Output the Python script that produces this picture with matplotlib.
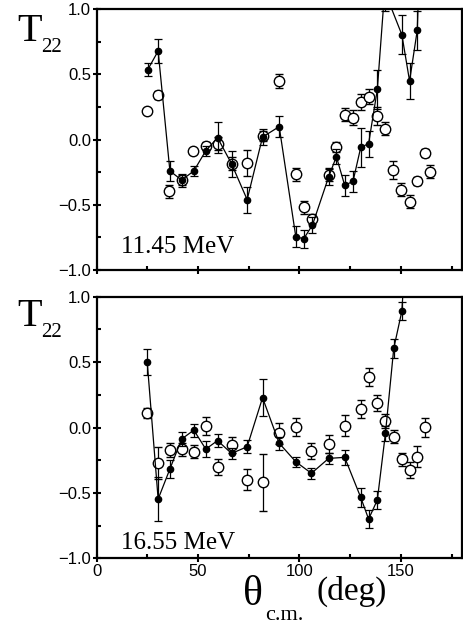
import matplotlib.pyplot as plt
import numpy as np
from matplotlib.ticker import MultipleLocator, FuncFormatter

# ---- 11.45 MeV ----
ang_f1 = [25.1, 30.3, 36.1, 41.9, 47.9, 53.8, 59.6, 66.5, 74.2, 81.8, 90.0,
          98.2, 102.1, 106.4, 114.4, 118.2, 122.3, 126.4, 130.2, 134.1, 138.4,
          142.0, 150.5, 154.3, 158.1, 159.5]
t22_f1 = [0.535, 0.68, -0.24, -0.31, -0.24, -0.085, 0.015, -0.185, -0.46, 0.02, 0.10,
          -0.745, -0.76, -0.655, -0.285, -0.13, -0.35, -0.32, -0.06, -0.03, 0.385,
          1.14, 0.805, 0.45, 0.84, 1.5]
err_f1 = [0.05, 0.09, 0.08, 0.05, 0.04, 0.04, 0.12, 0.10, 0.10, 0.06, 0.08,
          0.08, 0.07, 0.06, 0.06, 0.06, 0.08, 0.08, 0.15, 0.10, 0.15,
          0.15, 0.15, 0.14, 0.15, 0.15]

ang_o1 = [24.9, 30.3, 35.8, 41.9, 47.6, 53.7, 59.9, 66.5, 74.2, 81.8, 90.0,
          98.2, 102.1, 106.4, 114.4, 118.2, 122.3, 126.4, 130.2, 134.1, 138.4,
          142.4, 146.1, 150.2, 154.3, 158.1, 162.1, 164.2]
t22_o1 = [0.22, 0.34, -0.395, -0.31, -0.085, -0.05, -0.03, -0.185, -0.18, 0.03, 0.45,
          -0.265, -0.52, -0.61, -0.27, -0.055, 0.19, 0.17, 0.29, 0.33, 0.18,
          0.085, -0.235, -0.385, -0.475, -0.32, -0.105, -0.245]
err_o1 = [0.0, 0.03, 0.05, 0.04, 0.0, 0.03, 0.05, 0.05, 0.10, 0.04, 0.05,
          0.05, 0.05, 0.04, 0.05, 0.04, 0.05, 0.06, 0.06, 0.06, 0.07,
          0.05, 0.07, 0.05, 0.05, 0.03, 0.03, 0.05]

# ---- 16.55 MeV ----
ang_f2 = [24.9, 30.3, 36.1, 41.9, 47.9, 53.8, 59.6, 66.5, 74.2, 81.8, 90.0,
          98.2, 105.9, 114.4, 122.3, 130.2, 134.1, 138.4, 142.4, 146.5, 150.5, 152.5]
t22_f2 = [0.503, -0.547, -0.317, -0.088, -0.02, -0.165, -0.10, -0.198, -0.147, 0.228, -0.12,
          -0.262, -0.35, -0.236, -0.228, -0.534, -0.70, -0.554, -0.045, 0.605, 0.89, 1.4]
err_f2 = [0.10, 0.17, 0.07, 0.05, 0.05, 0.06, 0.05, 0.04, 0.05, 0.14, 0.05,
          0.04, 0.04, 0.04, 0.055, 0.07, 0.07, 0.07, 0.06, 0.07, 0.07, 0.07]

ang_o2 = [24.9, 30.3, 36.1, 41.9, 47.9, 53.8, 59.6, 66.5, 74.2, 81.8, 90.0,
          98.2, 105.9, 114.4, 122.3, 130.2, 134.1, 138.4, 142.4, 146.5, 150.5,
          154.3, 158.1, 162.1]
t22_o2 = [0.113, -0.27, -0.172, -0.167, -0.185, 0.012, -0.30, -0.134, -0.40, -0.42, -0.045,
          0.006, -0.177, -0.126, 0.014, 0.141, 0.388, 0.19, 0.05, -0.07, -0.243,
          -0.325, -0.223, 0.001]
err_o2 = [0.04, 0.12, 0.05, 0.05, 0.05, 0.07, 0.06, 0.06, 0.08, 0.22, 0.08,
          0.07, 0.06, 0.07, 0.08, 0.07, 0.07, 0.06, 0.05, 0.05, 0.05,
          0.06, 0.08, 0.07]

panels = [
    ([0.2084, 0.5761, 0.7866, 0.4093], ang_f1, t22_f1, err_f1, ang_o1, t22_o1, err_o1,
     '11.45 MeV', 0.065),
    ([0.2084, 0.1235, 0.7866, 0.4107], ang_f2, t22_f2, err_f2, ang_o2, t22_o2, err_o2,
     '16.55 MeV', 0.035),
]

fig = plt.figure(figsize=(4.64, 6.37), dpi=100)
sans = ['Liberation Sans', 'DejaVu Sans']
serif = ['Liberation Serif', 'DejaVu Serif']

def fmt(v, pos):
    return ('%.1f' % v).replace('-', '\u2212')

for i, (rect, af, tf, ef, ao, to, eo, label, ly) in enumerate(panels):
    ax = fig.add_axes(rect)
    ax.errorbar(ao, to, yerr=eo, fmt='o', ms=7.5, mfc='white', mec='black', mew=1.0,
                ecolor='black', elinewidth=0.9, capsize=3.2, capthick=0.9, zorder=2)
    ax.errorbar(af, tf, yerr=ef, fmt='-o', ms=4.5, color='black', lw=0.9,
                elinewidth=0.9, capsize=3.2, capthick=0.9, zorder=3)
    ax.set_xlim(0, 180)
    ax.set_ylim(-1.0, 1.0)
    ax.xaxis.set_major_locator(MultipleLocator(50))
    ax.xaxis.set_minor_locator(MultipleLocator(25))
    ax.yaxis.set_major_locator(MultipleLocator(0.5))
    ax.yaxis.set_minor_locator(MultipleLocator(0.25))
    ax.yaxis.set_major_formatter(FuncFormatter(fmt))
    ax.tick_params(which='major', direction='inout', length=6, width=1.5,
                   top=False, right=False, labelsize=12, pad=1)
    ax.tick_params(which='minor', direction='in', length=3, width=1.5,
                   top=False, right=False)
    for s in ax.spines.values():
        s.set_linewidth(1.6)
    for t in ax.get_xticklabels() + ax.get_yticklabels():
        t.set_family(sans)
    if i == 0:
        ax.tick_params(axis='x', labelbottom=False)
    ax.text(0.067, ly, label, transform=ax.transAxes, family=serif, fontsize=18,
            va='baseline', ha='left')

# y labels T_22
for yb in [0.9356, 0.488]:
    fig.text(0.037, yb, 'T', family=serif, fontsize=29, va='baseline', ha='left')
    fig.text(0.088, yb - 0.0175, '22', family=serif, fontsize=15, va='baseline', ha='left')

# x label
fig.text(0.524, 0.050, '\u03b8', family=serif, fontsize=30, va='baseline', ha='left')
fig.text(0.571, 0.027, 'c.m.', family=serif, fontsize=16, va='baseline', ha='left')
fig.text(0.683, 0.058, '(deg)', family=serif, fontsize=24, va='baseline', ha='left')

fig.savefig('out.png', dpi=100)
